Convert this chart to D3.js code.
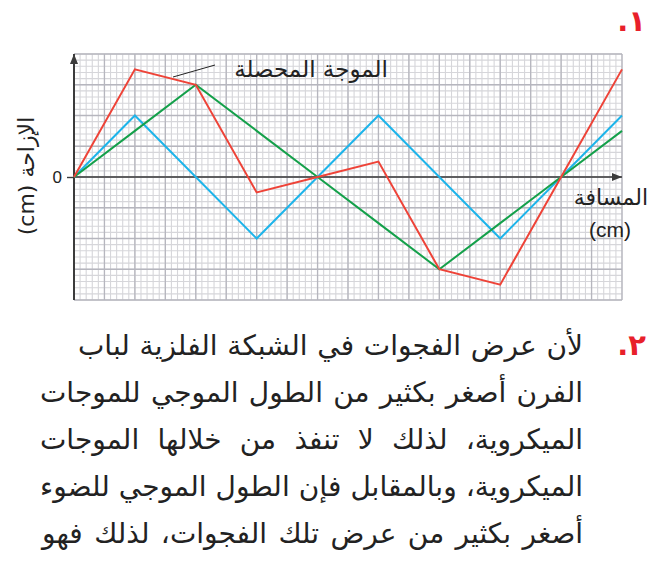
<!DOCTYPE html>
<html>
<head>
<meta charset="utf-8">
<script src="https://cdn.jsdelivr.net/npm/d3@7"></script>
<style>
  body { margin: 0; background: #fff; }
  svg { display: block; }
</style>
</head>
<body>
<div id="wrapper"></div>
<script>
// distance in grid units (1 unit = one big square)
const distance = [0, 2, 4, 6, 8, 10, 12, 14, 16, 18]
const waveBlue = [0, 2, 0, -2, 0, 2, 0, -2, 0, 2]
const waveGreen = [0, 1.5, 3, 1.5, 0, -1.5, -3, -1.5, 0, 1.5]
const waveResult = [0, 3.5, 3, -0.5, 0, 0.5, -3, -3.5, 0, 3.5]
const yTicks = [0]

const paragraph = [
  'لأن عرض الفجوات في الشبكة الفلزية لباب',
  'الفرن أصغر بكثير من الطول الموجي للموجات',
  'الميكروية، لذلك لا تنفذ من خلالها الموجات',
  'الميكروية، وبالمقابل فإن الطول الموجي للضوء',
  'أصغر بكثير من عرض تلك الفجوات، لذلك فهو'
]
const lineWidths = [505, 543, 543, 543, 541]

const width = 662
const height = 567
const arabicFont = '"DejaVu Sans", sans-serif'
const latinFont = '"Liberation Sans", Arial, sans-serif'

const svg = d3.select('#wrapper')
  .append('svg')
  .attr('width', width)
  .attr('height', height)

const xScale = d3.scaleLinear().domain([0, 18]).range([74, 622])
const yScale = d3.scaleLinear().domain([-4, 4]).range([300, 54])

// grid
const grid = svg.append('g')
const minorX = d3.range(0, 18.001, 0.2)
const minorY = d3.range(-4, 4.001, 0.2)
grid.selectAll('.vminor').data(minorX).enter().append('line')
  .attr('x1', d => xScale(d)).attr('x2', d => xScale(d))
  .attr('y1', yScale(-4)).attr('y2', yScale(4))
  .attr('stroke', '#d6d6da').attr('stroke-width', 1.1)
grid.selectAll('.hminor').data(minorY).enter().append('line')
  .attr('y1', d => yScale(d)).attr('y2', d => yScale(d))
  .attr('x1', xScale(0)).attr('x2', xScale(18))
  .attr('stroke', '#d6d6da').attr('stroke-width', 1.1)
grid.selectAll('.vmajor').data(d3.range(0, 19, 1)).enter().append('line')
  .attr('x1', d => xScale(d)).attr('x2', d => xScale(d))
  .attr('y1', yScale(-4)).attr('y2', yScale(4))
  .attr('stroke', '#b6b6be').attr('stroke-width', 1.3)
grid.selectAll('.hmajor').data(d3.range(-4, 5, 1)).enter().append('line')
  .attr('y1', d => yScale(d)).attr('y2', d => yScale(d))
  .attr('x1', xScale(0)).attr('x2', xScale(18))
  .attr('stroke', '#b6b6be').attr('stroke-width', 1.3)

// axes with arrows
svg.append('defs').append('marker')
  .attr('id', 'arrow')
  .attr('viewBox', '0 0 10 8')
  .attr('refX', 10).attr('refY', 4)
  .attr('markerWidth', 10).attr('markerHeight', 8)
  .attr('markerUnits', 'userSpaceOnUse')
  .attr('orient', 'auto')
  .append('path')
  .attr('d', 'M0,0 L10,4 L0,8 Z')
  .attr('fill', '#3c3c3c')

svg.append('line')
  .attr('x1', xScale(0)).attr('x2', xScale(18))
  .attr('y1', yScale(0)).attr('y2', yScale(0))
  .attr('stroke', '#3c3c3c').attr('stroke-width', 1.6)
  .attr('marker-end', 'url(#arrow)')
svg.append('line')
  .attr('x1', xScale(0)).attr('x2', xScale(0))
  .attr('y1', yScale(-4)).attr('y2', yScale(4))
  .attr('stroke', '#3c3c3c').attr('stroke-width', 2)
  .attr('marker-end', 'url(#arrow)')

const yAxis = svg.append('g')
  .attr('transform', `translate(${xScale(0)},0)`)
  .call(d3.axisLeft(yScale).tickValues(yTicks).tickSize(7).tickPadding(5).tickFormat(d3.format('d')))
yAxis.select('.domain').remove()
yAxis.selectAll('line').attr('stroke', '#3c3c3c').attr('stroke-width', 1.4)
yAxis.selectAll('text')
  .attr('font-family', latinFont)
  .attr('font-size', 17)
  .attr('fill', '#222')

// waves
const series = [
  { values: waveBlue, color: '#1db4ea' },
  { values: waveGreen, color: '#14a04a' },
  { values: waveResult, color: '#ee4338' }
]
const lineGen = d3.line()
  .x((d, i) => xScale(distance[i]))
  .y(d => yScale(d))

svg.selectAll('.wave').data(series).enter().append('path')
  .attr('d', d => lineGen(d.values))
  .attr('fill', 'none')
  .attr('stroke', d => d.color)
  .attr('stroke-width', 2)
  .attr('stroke-linejoin', 'miter')

// annotation
svg.append('line')
  .attr('x1', 173).attr('y1', 77)
  .attr('x2', 215).attr('y2', 65)
  .attr('stroke', '#222').attr('stroke-width', 1)
svg.append('text')
  .attr('x', 388).attr('y', 77)
  .attr('direction', 'rtl')
  .attr('text-anchor', 'start')
  .attr('font-family', arabicFont)
  .attr('font-size', 23)
  .attr('fill', '#222')
  .text('الموجة المحصلة')

// axis labels
svg.append('text')
  .attr('transform', 'translate(34,176) rotate(-90)')
  .attr('text-anchor', 'middle')
  .attr('direction', 'ltr')
  .attr('font-family', arabicFont)
  .attr('font-size', 22)
  .attr('fill', '#222')
  .text('(cm) الإزاحة')

svg.append('text')
  .attr('x', 648).attr('y', 205)
  .attr('direction', 'rtl')
  .attr('text-anchor', 'start')
  .attr('font-family', arabicFont)
  .attr('font-size', 22)
  .attr('fill', '#222')
  .text('المسافة')
svg.append('text')
  .attr('x', 610).attr('y', 237)
  .attr('text-anchor', 'middle')
  .attr('font-family', latinFont)
  .attr('font-size', 21)
  .attr('fill', '#222')
  .text('(cm)')

// item numbers
svg.append('text')
  .attr('x', 646).attr('y', 31)
  .attr('direction', 'rtl')
  .attr('text-anchor', 'start')
  .attr('font-family', arabicFont)
  .attr('font-weight', 'bold')
  .attr('font-size', 29)
  .attr('fill', '#e8202a')
  .text('١.')

svg.append('text')
  .attr('x', 646).attr('y', 355)
  .attr('direction', 'rtl')
  .attr('text-anchor', 'start')
  .attr('font-family', arabicFont)
  .attr('font-weight', 'bold')
  .attr('font-size', 29)
  .attr('fill', '#e8202a')
  .text('٢.')

// paragraph, justified by word spacing
const paraText = svg.selectAll('.para').data(paragraph).enter().append('text')
  .attr('x', 583)
  .attr('y', (d, i) => 355 + i * 47)
  .attr('direction', 'rtl')
  .attr('text-anchor', 'start')
  .attr('font-family', arabicFont)
  .attr('font-size', 28)
  .attr('fill', '#222')
  .text(d => d)

paraText.each(function (d, i) {
  const len = this.getComputedTextLength()
  const gaps = d.split(' ').length - 1
  const extra = Math.max(0, (lineWidths[i] - len) / gaps)
  d3.select(this).attr('word-spacing', extra)
})
</script>
</body>
</html>
